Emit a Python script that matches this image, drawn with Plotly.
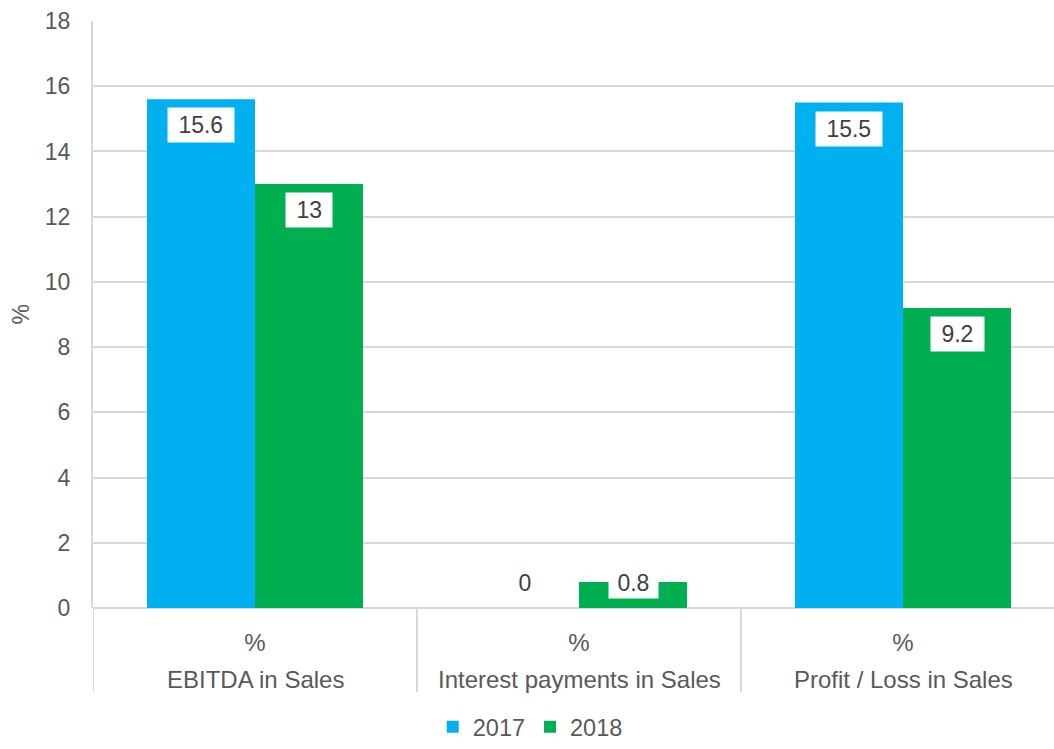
import plotly.graph_objects as go

categories = ["EBITDA in Sales", "Interest payments in Sales", "Profit / Loss in Sales"]
units = ["%", "%", "%"]
values_2017 = [15.6, 0, 15.5]
values_2018 = [13, 0.8, 9.2]
series_names = ["2017", "2018"]
series_colors = ["#00B0F0", "#00B050"]
y_ticks = [0, 2, 4, 6, 8, 10, 12, 14, 16, 18]

FONT = "Liberation Sans, Arial, sans-serif"
TXT = "#595959"
GRID = "#D9D9D9"

W, H = 1054, 749
plot_left, plot_right = 93, 1054
plot_top, plot_bottom = 21, 615
plot_h = plot_bottom - plot_top
cat_px = 324
x_hi = -0.5 + (plot_right - plot_left) / cat_px


def py(target):
    """paper y for a target screen pixel row"""
    return (plot_bottom - target) / plot_h


fig = go.Figure()
for name, vals, col in zip(series_names, [values_2017, values_2018], series_colors):
    fig.add_trace(go.Bar(
        x=categories, y=vals, name=name,
        marker=dict(color=col, line=dict(width=0)),
        hoverinfo="skip",
    ))

# data labels with white boxes
bargap = 1 / 3
bar_w = (1 - bargap) / 2
for s, vals in enumerate([values_2017, values_2018]):
    for i, v in enumerate(vals):
        xpos = i - bar_w / 2 + s * bar_w
        if v >= 2:
            fig.add_annotation(x=xpos, y=v, xref="x", yref="y", text=" %g " % v,
                               showarrow=False, yanchor="top", yshift=-8,
                               bgcolor="white", borderpad=4,
                               font=dict(family=FONT, size=23, color="#404040"))
        else:
            fig.add_annotation(x=xpos, y=0, xref="x", yref="y", text=" %g " % v,
                               showarrow=False, yanchor="middle", yshift=25,
                               bgcolor="white", borderpad=2,
                               font=dict(family=FONT, size=23, color="#404040"))

# outer category labels (second row)
for i, c in enumerate(categories):
    fig.add_annotation(x=i, y=py(687), xref="x", yref="paper",
                       text=c, showarrow=False, yanchor="middle",
                       font=dict(family=FONT, size=24, color=TXT))

# dividers between categories (and left boundary)
for i in range(len(categories)):
    fig.add_shape(type="line", xref="x", yref="paper", x0=i - 0.5, x1=i - 0.5,
                  y0=0, y1=py(700), line=dict(color=GRID, width=2), layer="below")

# y-axis title
fig.add_annotation(x=-(plot_left - 20) / (plot_right - plot_left), y=py(318),
                   xref="paper", yref="paper", text="%", textangle=-90, showarrow=False,
                   xanchor="center", yanchor="middle",
                   font=dict(family=FONT, size=23, color=TXT))

fig.update_layout(
    width=W, height=H, autosize=False,
    margin=dict(l=plot_left, r=W - plot_right, t=plot_top, b=H - plot_bottom),
    paper_bgcolor="white", plot_bgcolor="white",
    barmode="group", bargap=bargap, bargroupgap=0,
    font=dict(family=FONT, size=23, color=TXT),
    showlegend=True,
    legend=dict(orientation="h", x=0.455, xanchor="center",
                y=py(736), yanchor="middle",
                font=dict(size=23.5, color=TXT), itemwidth=30, tracegroupgap=0,
                traceorder="normal"),
    xaxis=dict(
        type="category", range=[-0.5, x_hi], automargin=False,
        tickvals=categories, ticktext=units,
        showline=False, showgrid=False, ticks="", ticklabelstandoff=18,
        tickfont=dict(family=FONT, size=24, color=TXT),
        zeroline=False,
    ),
    yaxis=dict(
        range=[0, 18], tickvals=y_ticks, automargin=False,
        showgrid=True, gridcolor=GRID, gridwidth=2,
        showline=True, linecolor=GRID, linewidth=2, zeroline=True, zerolinecolor=GRID,
        zerolinewidth=2, ticks="", ticklabelstandoff=16,
        tickfont=dict(family=FONT, size=23, color=TXT),
    ),
)

fig.write_html("out.html",
               config={"displayModeBar": False, "responsive": False},
               post_script="document.documentElement.style.overflow='hidden';"
                           "document.body.style.margin='0';document.body.style.overflow='hidden';")
